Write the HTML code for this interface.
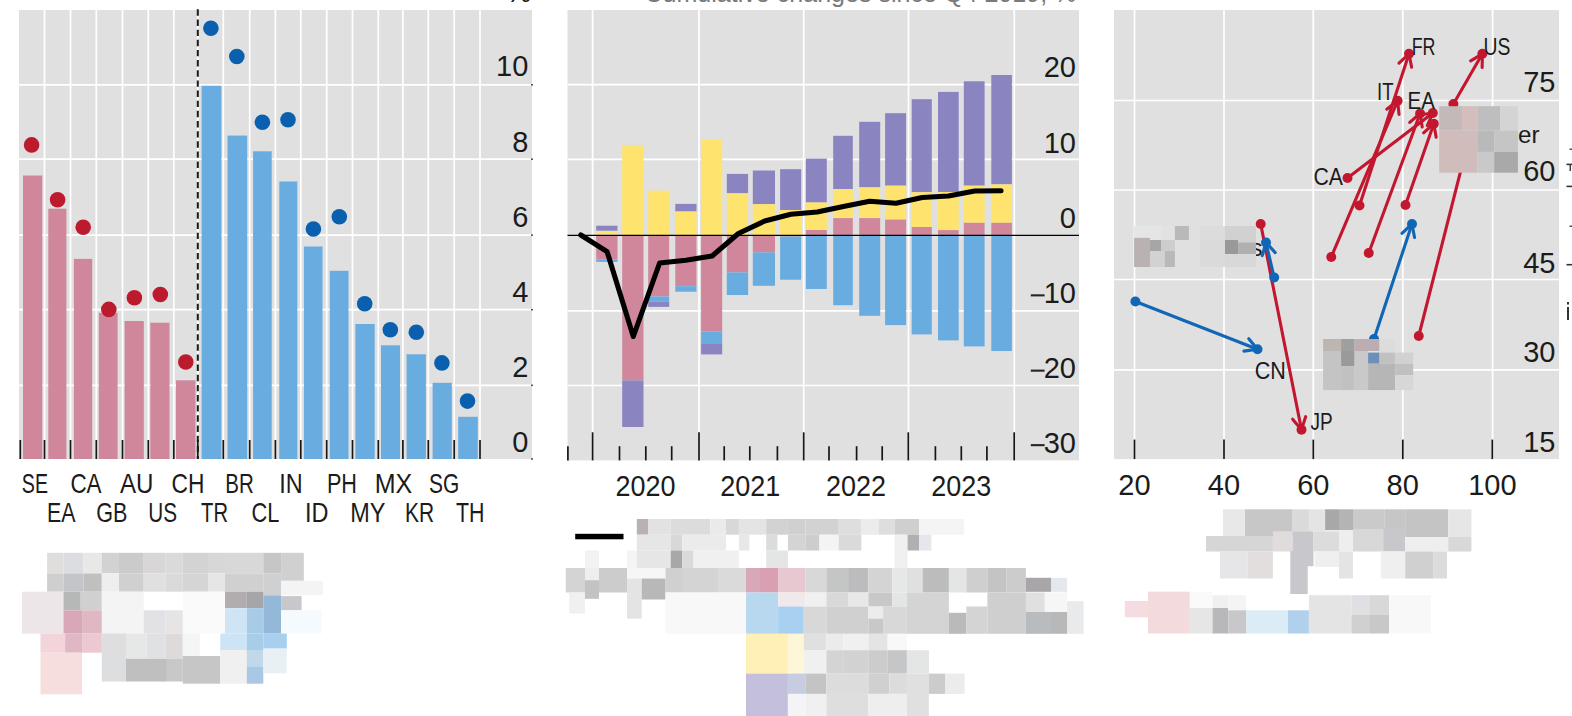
<!DOCTYPE html>
<html><head><meta charset="utf-8"><style>
html,body{margin:0;padding:0;background:#fff;width:1572px;height:716px;overflow:hidden}
svg{display:block}
text{font-family:"Liberation Sans",sans-serif}
</style></head><body>
<svg width="1572" height="716" viewBox="0 0 1572 716">
<rect width="1572" height="716" fill="#fff"/>
<rect x="19.00" y="10.00" width="513.00" height="449.00" fill="#e0e0e0"/>
<line x1="44.50" y1="10.00" x2="44.50" y2="459.00" stroke="#ffffff" stroke-width="1.7" />
<line x1="70.50" y1="10.00" x2="70.50" y2="459.00" stroke="#ffffff" stroke-width="1.7" />
<line x1="96.30" y1="10.00" x2="96.30" y2="459.00" stroke="#ffffff" stroke-width="1.7" />
<line x1="122.50" y1="10.00" x2="122.50" y2="459.00" stroke="#ffffff" stroke-width="1.7" />
<line x1="148.30" y1="10.00" x2="148.30" y2="459.00" stroke="#ffffff" stroke-width="1.7" />
<line x1="173.80" y1="10.00" x2="173.80" y2="459.00" stroke="#ffffff" stroke-width="1.7" />
<line x1="197.80" y1="10.00" x2="197.80" y2="459.00" stroke="#ffffff" stroke-width="1.7" />
<line x1="223.30" y1="10.00" x2="223.30" y2="459.00" stroke="#ffffff" stroke-width="1.7" />
<line x1="249.70" y1="10.00" x2="249.70" y2="459.00" stroke="#ffffff" stroke-width="1.7" />
<line x1="275.40" y1="10.00" x2="275.40" y2="459.00" stroke="#ffffff" stroke-width="1.7" />
<line x1="300.80" y1="10.00" x2="300.80" y2="459.00" stroke="#ffffff" stroke-width="1.7" />
<line x1="326.70" y1="10.00" x2="326.70" y2="459.00" stroke="#ffffff" stroke-width="1.7" />
<line x1="352.50" y1="10.00" x2="352.50" y2="459.00" stroke="#ffffff" stroke-width="1.7" />
<line x1="378.30" y1="10.00" x2="378.30" y2="459.00" stroke="#ffffff" stroke-width="1.7" />
<line x1="402.90" y1="10.00" x2="402.90" y2="459.00" stroke="#ffffff" stroke-width="1.7" />
<line x1="428.30" y1="10.00" x2="428.30" y2="459.00" stroke="#ffffff" stroke-width="1.7" />
<line x1="454.20" y1="10.00" x2="454.20" y2="459.00" stroke="#ffffff" stroke-width="1.7" />
<line x1="480.00" y1="10.00" x2="480.00" y2="459.00" stroke="#ffffff" stroke-width="1.7" />
<line x1="19.00" y1="84.80" x2="532.00" y2="84.80" stroke="#ffffff" stroke-width="1.7" />
<line x1="19.00" y1="159.20" x2="532.00" y2="159.20" stroke="#ffffff" stroke-width="1.7" />
<line x1="19.00" y1="235.10" x2="532.00" y2="235.10" stroke="#ffffff" stroke-width="1.7" />
<line x1="19.00" y1="309.70" x2="532.00" y2="309.70" stroke="#ffffff" stroke-width="1.7" />
<line x1="19.00" y1="385.30" x2="532.00" y2="385.30" stroke="#ffffff" stroke-width="1.7" />
<rect x="23.00" y="175.50" width="19.30" height="283.50" fill="#d0879b"/>
<rect x="48.30" y="208.70" width="18.10" height="250.30" fill="#d0879b"/>
<rect x="73.90" y="258.90" width="18.30" height="200.10" fill="#d0879b"/>
<rect x="98.80" y="312.80" width="18.80" height="146.20" fill="#d0879b"/>
<rect x="124.60" y="321.00" width="19.20" height="138.00" fill="#d0879b"/>
<rect x="150.30" y="322.70" width="19.20" height="136.30" fill="#d0879b"/>
<rect x="176.00" y="380.30" width="19.50" height="78.70" fill="#d0879b"/>
<rect x="201.60" y="85.80" width="19.80" height="373.20" fill="#69acdf"/>
<rect x="227.50" y="135.60" width="19.70" height="323.40" fill="#69acdf"/>
<rect x="253.10" y="151.30" width="18.60" height="307.70" fill="#69acdf"/>
<rect x="279.30" y="181.50" width="18.00" height="277.50" fill="#69acdf"/>
<rect x="303.90" y="246.50" width="18.60" height="212.50" fill="#69acdf"/>
<rect x="329.80" y="270.80" width="18.70" height="188.20" fill="#69acdf"/>
<rect x="355.40" y="324.00" width="19.30" height="135.00" fill="#69acdf"/>
<rect x="381.00" y="345.30" width="19.00" height="113.70" fill="#69acdf"/>
<rect x="406.60" y="354.30" width="19.30" height="104.70" fill="#69acdf"/>
<rect x="432.60" y="382.80" width="19.20" height="76.20" fill="#69acdf"/>
<rect x="458.20" y="416.80" width="19.60" height="42.20" fill="#69acdf"/>
<line x1="197.80" y1="9.35" x2="197.80" y2="459.00" stroke="#1a1a1a" stroke-width="2" stroke-dasharray="6.4 3.75"/>
<circle cx="31.6" cy="144.9" r="7.8" fill="#bc1a2d"/>
<circle cx="57.6" cy="199.7" r="7.8" fill="#bc1a2d"/>
<circle cx="83.2" cy="227.3" r="7.8" fill="#bc1a2d"/>
<circle cx="108.8" cy="309.4" r="7.8" fill="#bc1a2d"/>
<circle cx="134.4" cy="297.8" r="7.8" fill="#bc1a2d"/>
<circle cx="160.3" cy="294.5" r="7.8" fill="#bc1a2d"/>
<circle cx="185.8" cy="362" r="7.8" fill="#bc1a2d"/>
<circle cx="210.9" cy="28.3" r="7.8" fill="#0a5fae"/>
<circle cx="236.8" cy="56.5" r="7.8" fill="#0a5fae"/>
<circle cx="262.4" cy="122.3" r="7.8" fill="#0a5fae"/>
<circle cx="288" cy="119.7" r="7.8" fill="#0a5fae"/>
<circle cx="313.4" cy="229" r="7.8" fill="#0a5fae"/>
<circle cx="339.3" cy="216.7" r="7.8" fill="#0a5fae"/>
<circle cx="364.7" cy="303.7" r="7.8" fill="#0a5fae"/>
<circle cx="390.3" cy="329.7" r="7.8" fill="#0a5fae"/>
<circle cx="416.3" cy="332.3" r="7.8" fill="#0a5fae"/>
<circle cx="441.9" cy="362.9" r="7.8" fill="#0a5fae"/>
<circle cx="467.5" cy="401.1" r="7.8" fill="#0a5fae"/>
<line x1="20.30" y1="440.00" x2="20.30" y2="459.00" stroke="#161616" stroke-width="1.7" />
<line x1="44.50" y1="440.00" x2="44.50" y2="459.00" stroke="#161616" stroke-width="1.7" />
<line x1="70.50" y1="440.00" x2="70.50" y2="459.00" stroke="#161616" stroke-width="1.7" />
<line x1="96.30" y1="440.00" x2="96.30" y2="459.00" stroke="#161616" stroke-width="1.7" />
<line x1="122.50" y1="440.00" x2="122.50" y2="459.00" stroke="#161616" stroke-width="1.7" />
<line x1="148.30" y1="440.00" x2="148.30" y2="459.00" stroke="#161616" stroke-width="1.7" />
<line x1="173.80" y1="440.00" x2="173.80" y2="459.00" stroke="#161616" stroke-width="1.7" />
<line x1="197.80" y1="440.00" x2="197.80" y2="459.00" stroke="#161616" stroke-width="1.7" />
<line x1="223.30" y1="440.00" x2="223.30" y2="459.00" stroke="#161616" stroke-width="1.7" />
<line x1="249.70" y1="440.00" x2="249.70" y2="459.00" stroke="#161616" stroke-width="1.7" />
<line x1="275.40" y1="440.00" x2="275.40" y2="459.00" stroke="#161616" stroke-width="1.7" />
<line x1="300.80" y1="440.00" x2="300.80" y2="459.00" stroke="#161616" stroke-width="1.7" />
<line x1="326.70" y1="440.00" x2="326.70" y2="459.00" stroke="#161616" stroke-width="1.7" />
<line x1="352.50" y1="440.00" x2="352.50" y2="459.00" stroke="#161616" stroke-width="1.7" />
<line x1="378.30" y1="440.00" x2="378.30" y2="459.00" stroke="#161616" stroke-width="1.7" />
<line x1="402.90" y1="440.00" x2="402.90" y2="459.00" stroke="#161616" stroke-width="1.7" />
<line x1="428.30" y1="440.00" x2="428.30" y2="459.00" stroke="#161616" stroke-width="1.7" />
<line x1="454.20" y1="440.00" x2="454.20" y2="459.00" stroke="#161616" stroke-width="1.7" />
<line x1="480.00" y1="440.00" x2="480.00" y2="459.00" stroke="#161616" stroke-width="1.7" />
<rect x="531.00" y="84.00" width="2.00" height="1.60" fill="#555"/>
<rect x="531.00" y="158.40" width="2.00" height="1.60" fill="#555"/>
<rect x="531.00" y="234.30" width="2.00" height="1.60" fill="#555"/>
<rect x="531.00" y="308.90" width="2.00" height="1.60" fill="#555"/>
<rect x="531.00" y="384.50" width="2.00" height="1.60" fill="#555"/>
<rect x="531.00" y="458.20" width="2.00" height="1.60" fill="#555"/>
<text x="528.30" y="76.00" font-size="29" text-anchor="end" fill="#1b1b1b" >10</text>
<text x="528.30" y="152.30" font-size="29" text-anchor="end" fill="#1b1b1b" >8</text>
<text x="528.30" y="226.60" font-size="29" text-anchor="end" fill="#1b1b1b" >6</text>
<text x="528.30" y="301.60" font-size="29" text-anchor="end" fill="#1b1b1b" >4</text>
<text x="528.30" y="377.20" font-size="29" text-anchor="end" fill="#1b1b1b" >2</text>
<text x="528.30" y="452.00" font-size="29" text-anchor="end" fill="#1b1b1b" >0</text>
<text x="531.50" y="2.00" font-size="29" text-anchor="end" fill="#1b1b1b" >%</text>
<text x="21.80" y="492.80" font-size="26.9" text-anchor="start" fill="#1b1b1b" textLength="26.2" lengthAdjust="spacingAndGlyphs" >SE</text>
<text x="70.40" y="492.80" font-size="26.9" text-anchor="start" fill="#1b1b1b" textLength="31.2" lengthAdjust="spacingAndGlyphs" >CA</text>
<text x="120.00" y="492.80" font-size="26.9" text-anchor="start" fill="#1b1b1b" textLength="33.5" lengthAdjust="spacingAndGlyphs" >AU</text>
<text x="171.60" y="492.80" font-size="26.9" text-anchor="start" fill="#1b1b1b" textLength="32.9" lengthAdjust="spacingAndGlyphs" >CH</text>
<text x="225.30" y="492.80" font-size="26.9" text-anchor="start" fill="#1b1b1b" textLength="28.5" lengthAdjust="spacingAndGlyphs" >BR</text>
<text x="279.30" y="492.80" font-size="26.9" text-anchor="start" fill="#1b1b1b" textLength="23.4" lengthAdjust="spacingAndGlyphs" >IN</text>
<text x="326.90" y="492.80" font-size="26.9" text-anchor="start" fill="#1b1b1b" textLength="30.1" lengthAdjust="spacingAndGlyphs" >PH</text>
<text x="374.80" y="492.80" font-size="26.9" text-anchor="start" fill="#1b1b1b" textLength="37.5" lengthAdjust="spacingAndGlyphs" >MX</text>
<text x="429.10" y="492.80" font-size="26.9" text-anchor="start" fill="#1b1b1b" textLength="30.2" lengthAdjust="spacingAndGlyphs" >SG</text>
<text x="46.90" y="521.90" font-size="26.9" text-anchor="start" fill="#1b1b1b" textLength="28.5" lengthAdjust="spacingAndGlyphs" >EA</text>
<text x="96.20" y="521.90" font-size="26.9" text-anchor="start" fill="#1b1b1b" textLength="31.2" lengthAdjust="spacingAndGlyphs" >GB</text>
<text x="148.20" y="521.90" font-size="26.9" text-anchor="start" fill="#1b1b1b" textLength="28.8" lengthAdjust="spacingAndGlyphs" >US</text>
<text x="201.10" y="521.90" font-size="26.9" text-anchor="start" fill="#1b1b1b" textLength="26.9" lengthAdjust="spacingAndGlyphs" >TR</text>
<text x="251.40" y="521.90" font-size="26.9" text-anchor="start" fill="#1b1b1b" textLength="27.9" lengthAdjust="spacingAndGlyphs" >CL</text>
<text x="305.00" y="521.90" font-size="26.9" text-anchor="start" fill="#1b1b1b" textLength="23.5" lengthAdjust="spacingAndGlyphs" >ID</text>
<text x="350.30" y="521.90" font-size="26.9" text-anchor="start" fill="#1b1b1b" textLength="35.2" lengthAdjust="spacingAndGlyphs" >MY</text>
<text x="405.00" y="521.90" font-size="26.9" text-anchor="start" fill="#1b1b1b" textLength="29.1" lengthAdjust="spacingAndGlyphs" >KR</text>
<text x="455.90" y="521.90" font-size="26.9" text-anchor="start" fill="#1b1b1b" textLength="28.5" lengthAdjust="spacingAndGlyphs" >TH</text>
<rect x="567.50" y="10.00" width="511.50" height="450.40" fill="#e0e0e0"/>
<line x1="592.60" y1="10.00" x2="592.60" y2="460.40" stroke="#ffffff" stroke-width="1.7" />
<line x1="699.00" y1="10.00" x2="699.00" y2="460.40" stroke="#ffffff" stroke-width="1.7" />
<line x1="803.70" y1="10.00" x2="803.70" y2="460.40" stroke="#ffffff" stroke-width="1.7" />
<line x1="908.50" y1="10.00" x2="908.50" y2="460.40" stroke="#ffffff" stroke-width="1.7" />
<line x1="1014.30" y1="10.00" x2="1014.30" y2="460.40" stroke="#ffffff" stroke-width="1.7" />
<line x1="567.50" y1="84.60" x2="1079.00" y2="84.60" stroke="#ffffff" stroke-width="1.7" />
<line x1="567.50" y1="159.30" x2="1079.00" y2="159.30" stroke="#ffffff" stroke-width="1.7" />
<line x1="567.50" y1="310.80" x2="1079.00" y2="310.80" stroke="#ffffff" stroke-width="1.7" />
<line x1="567.50" y1="385.50" x2="1079.00" y2="385.50" stroke="#ffffff" stroke-width="1.7" />
<rect x="596.20" y="225.70" width="21.30" height="5.00" fill="#8a84c0"/>
<rect x="596.20" y="231.20" width="21.30" height="3.20" fill="#fee36e"/>
<rect x="596.20" y="235.50" width="21.30" height="24.00" fill="#d0879b"/>
<rect x="596.20" y="259.50" width="21.30" height="2.40" fill="#69acdf"/>
<rect x="622.20" y="145.00" width="21.30" height="90.00" fill="#fee36e"/>
<rect x="622.20" y="235.00" width="21.30" height="145.40" fill="#d0879b"/>
<rect x="622.20" y="380.40" width="21.30" height="46.60" fill="#8a84c0"/>
<rect x="648.20" y="190.60" width="21.00" height="44.40" fill="#fee36e"/>
<rect x="648.20" y="235.00" width="21.00" height="61.50" fill="#d0879b"/>
<rect x="648.20" y="296.50" width="21.00" height="5.00" fill="#69acdf"/>
<rect x="648.20" y="301.50" width="21.00" height="5.40" fill="#8a84c0"/>
<rect x="675.30" y="203.90" width="21.20" height="7.60" fill="#8a84c0"/>
<rect x="675.30" y="211.50" width="21.20" height="23.50" fill="#fee36e"/>
<rect x="675.30" y="235.00" width="21.20" height="51.20" fill="#d0879b"/>
<rect x="675.30" y="286.20" width="21.20" height="5.50" fill="#69acdf"/>
<rect x="701.10" y="139.00" width="21.10" height="96.00" fill="#fee36e"/>
<rect x="701.10" y="235.00" width="21.10" height="96.40" fill="#d0879b"/>
<rect x="701.10" y="331.40" width="21.10" height="12.60" fill="#69acdf"/>
<rect x="701.10" y="344.00" width="21.10" height="10.40" fill="#8a84c0"/>
<rect x="726.80" y="173.90" width="21.30" height="19.40" fill="#8a84c0"/>
<rect x="726.80" y="193.30" width="21.30" height="41.70" fill="#fee36e"/>
<rect x="726.80" y="235.00" width="21.30" height="37.40" fill="#d0879b"/>
<rect x="726.80" y="272.40" width="21.30" height="22.60" fill="#69acdf"/>
<rect x="752.80" y="170.50" width="22.20" height="33.70" fill="#8a84c0"/>
<rect x="752.80" y="204.20" width="22.20" height="30.80" fill="#fee36e"/>
<rect x="752.80" y="235.00" width="22.20" height="17.40" fill="#d0879b"/>
<rect x="752.80" y="252.40" width="22.20" height="33.40" fill="#69acdf"/>
<rect x="780.10" y="169.20" width="21.10" height="40.80" fill="#8a84c0"/>
<rect x="780.10" y="210.00" width="21.10" height="25.00" fill="#fee36e"/>
<rect x="780.10" y="235.00" width="21.10" height="1.50" fill="#d0879b"/>
<rect x="780.10" y="236.50" width="21.10" height="43.20" fill="#69acdf"/>
<rect x="805.90" y="158.60" width="20.90" height="43.90" fill="#8a84c0"/>
<rect x="805.90" y="202.50" width="20.90" height="27.50" fill="#fee36e"/>
<rect x="805.90" y="230.00" width="20.90" height="5.00" fill="#d0879b"/>
<rect x="805.90" y="235.00" width="20.90" height="54.00" fill="#69acdf"/>
<rect x="833.20" y="135.80" width="19.60" height="53.30" fill="#8a84c0"/>
<rect x="833.20" y="189.10" width="19.60" height="29.00" fill="#fee36e"/>
<rect x="833.20" y="218.10" width="19.60" height="16.90" fill="#d0879b"/>
<rect x="833.20" y="235.00" width="19.60" height="70.20" fill="#69acdf"/>
<rect x="859.20" y="121.80" width="21.00" height="65.60" fill="#8a84c0"/>
<rect x="859.20" y="187.40" width="21.00" height="30.70" fill="#fee36e"/>
<rect x="859.20" y="218.10" width="21.00" height="16.90" fill="#d0879b"/>
<rect x="859.20" y="235.00" width="21.00" height="80.80" fill="#69acdf"/>
<rect x="885.10" y="113.20" width="21.00" height="72.50" fill="#8a84c0"/>
<rect x="885.10" y="185.70" width="21.00" height="33.90" fill="#fee36e"/>
<rect x="885.10" y="219.60" width="21.00" height="15.40" fill="#d0879b"/>
<rect x="885.10" y="235.00" width="21.00" height="90.10" fill="#69acdf"/>
<rect x="911.70" y="99.20" width="20.10" height="93.00" fill="#8a84c0"/>
<rect x="911.70" y="192.20" width="20.10" height="34.80" fill="#fee36e"/>
<rect x="911.70" y="227.00" width="20.10" height="8.00" fill="#d0879b"/>
<rect x="911.70" y="235.00" width="20.10" height="99.40" fill="#69acdf"/>
<rect x="938.00" y="91.90" width="20.70" height="100.10" fill="#8a84c0"/>
<rect x="938.00" y="192.00" width="20.70" height="38.10" fill="#fee36e"/>
<rect x="938.00" y="230.10" width="20.70" height="4.90" fill="#d0879b"/>
<rect x="938.00" y="235.00" width="20.70" height="105.40" fill="#69acdf"/>
<rect x="963.80" y="81.30" width="20.80" height="104.40" fill="#8a84c0"/>
<rect x="963.80" y="185.70" width="20.80" height="37.10" fill="#fee36e"/>
<rect x="963.80" y="222.80" width="20.80" height="12.20" fill="#d0879b"/>
<rect x="963.80" y="235.00" width="20.80" height="111.40" fill="#69acdf"/>
<rect x="991.30" y="75.00" width="20.60" height="109.40" fill="#8a84c0"/>
<rect x="991.30" y="184.40" width="20.60" height="38.40" fill="#fee36e"/>
<rect x="991.30" y="222.80" width="20.60" height="12.20" fill="#d0879b"/>
<rect x="991.30" y="235.00" width="20.60" height="116.00" fill="#69acdf"/>
<line x1="567.50" y1="235.30" x2="1079.00" y2="235.30" stroke="#000" stroke-width="1.2" />
<polyline points="580.8,235 607.1,251.7 633.3,336.5 659.6,263 685.9,260.2 712.1,256 738.4,233.5 764.7,221 790.9,214.2 817.2,212 843.4,206.5 869.7,201.3 896,203.3 922.2,197.5 948.5,196 974.7,191 1001,190.8" fill="none" stroke="#000" stroke-width="5.1" stroke-linejoin="round" stroke-linecap="round"/>
<line x1="592.60" y1="432.30" x2="592.60" y2="460.40" stroke="#161616" stroke-width="1.7" />
<line x1="699.00" y1="432.30" x2="699.00" y2="460.40" stroke="#161616" stroke-width="1.7" />
<line x1="803.70" y1="432.30" x2="803.70" y2="460.40" stroke="#161616" stroke-width="1.7" />
<line x1="908.30" y1="432.30" x2="908.30" y2="460.40" stroke="#161616" stroke-width="1.7" />
<line x1="1014.20" y1="432.30" x2="1014.20" y2="460.40" stroke="#161616" stroke-width="1.7" />
<line x1="567.90" y1="446.20" x2="567.90" y2="460.40" stroke="#161616" stroke-width="1.7" />
<line x1="619.50" y1="446.20" x2="619.50" y2="460.40" stroke="#161616" stroke-width="1.7" />
<line x1="645.80" y1="446.20" x2="645.80" y2="460.40" stroke="#161616" stroke-width="1.7" />
<line x1="671.70" y1="446.20" x2="671.70" y2="460.40" stroke="#161616" stroke-width="1.7" />
<line x1="724.20" y1="446.20" x2="724.20" y2="460.40" stroke="#161616" stroke-width="1.7" />
<line x1="749.80" y1="446.20" x2="749.80" y2="460.40" stroke="#161616" stroke-width="1.7" />
<line x1="777.40" y1="446.20" x2="777.40" y2="460.40" stroke="#161616" stroke-width="1.7" />
<line x1="829.00" y1="446.20" x2="829.00" y2="460.40" stroke="#161616" stroke-width="1.7" />
<line x1="856.60" y1="446.20" x2="856.60" y2="460.40" stroke="#161616" stroke-width="1.7" />
<line x1="882.20" y1="446.20" x2="882.20" y2="460.40" stroke="#161616" stroke-width="1.7" />
<line x1="935.40" y1="446.20" x2="935.40" y2="460.40" stroke="#161616" stroke-width="1.7" />
<line x1="961.30" y1="446.20" x2="961.30" y2="460.40" stroke="#161616" stroke-width="1.7" />
<line x1="986.90" y1="446.20" x2="986.90" y2="460.40" stroke="#161616" stroke-width="1.7" />
<text x="1076.00" y="76.60" font-size="29" text-anchor="end" fill="#1b1b1b" >20</text>
<text x="1076.00" y="152.50" font-size="29" text-anchor="end" fill="#1b1b1b" >10</text>
<text x="1076.00" y="227.50" font-size="29" text-anchor="end" fill="#1b1b1b" >0</text>
<text x="1076.00" y="303.00" font-size="29" text-anchor="end" fill="#1b1b1b" >10</text>
<text x="1076.00" y="378.30" font-size="29" text-anchor="end" fill="#1b1b1b" >20</text>
<text x="1076.00" y="452.80" font-size="29" text-anchor="end" fill="#1b1b1b" >30</text>
<rect x="1030.80" y="294.30" width="13.80" height="2.10" fill="#262626"/>
<rect x="1030.80" y="369.60" width="13.80" height="2.10" fill="#262626"/>
<rect x="1030.80" y="444.10" width="13.80" height="2.10" fill="#262626"/>
<text x="645.60" y="496.00" font-size="29" text-anchor="middle" fill="#1b1b1b" textLength="60" lengthAdjust="spacingAndGlyphs" >2020</text>
<text x="750.20" y="496.00" font-size="29" text-anchor="middle" fill="#1b1b1b" textLength="60" lengthAdjust="spacingAndGlyphs" >2021</text>
<text x="856.00" y="496.00" font-size="29" text-anchor="middle" fill="#1b1b1b" textLength="60" lengthAdjust="spacingAndGlyphs" >2022</text>
<text x="961.20" y="496.00" font-size="29" text-anchor="middle" fill="#1b1b1b" textLength="60" lengthAdjust="spacingAndGlyphs" >2023</text>
<text x="644.40" y="2.30" font-size="26" text-anchor="start" fill="#7a7a7a" textLength="432" lengthAdjust="spacingAndGlyphs" >Cumulative changes since Q4 2019, %</text>
<rect x="1114.00" y="10.00" width="445.00" height="449.10" fill="#e0e0e0"/>
<line x1="1134.50" y1="10.00" x2="1134.50" y2="459.10" stroke="#ffffff" stroke-width="1.7" />
<line x1="1224.00" y1="10.00" x2="1224.00" y2="459.10" stroke="#ffffff" stroke-width="1.7" />
<line x1="1313.30" y1="10.00" x2="1313.30" y2="459.10" stroke="#ffffff" stroke-width="1.7" />
<line x1="1402.80" y1="10.00" x2="1402.80" y2="459.10" stroke="#ffffff" stroke-width="1.7" />
<line x1="1492.60" y1="10.00" x2="1492.60" y2="459.10" stroke="#ffffff" stroke-width="1.7" />
<line x1="1114.00" y1="100.50" x2="1559.00" y2="100.50" stroke="#ffffff" stroke-width="1.7" />
<line x1="1114.00" y1="190.00" x2="1559.00" y2="190.00" stroke="#ffffff" stroke-width="1.7" />
<line x1="1114.00" y1="279.50" x2="1559.00" y2="279.50" stroke="#ffffff" stroke-width="1.7" />
<line x1="1114.00" y1="369.80" x2="1559.00" y2="369.80" stroke="#ffffff" stroke-width="1.7" />
<line x1="1134.50" y1="439.60" x2="1134.50" y2="459.10" stroke="#161616" stroke-width="1.7" />
<line x1="1224.00" y1="439.60" x2="1224.00" y2="459.10" stroke="#161616" stroke-width="1.7" />
<line x1="1313.30" y1="439.60" x2="1313.30" y2="459.10" stroke="#161616" stroke-width="1.7" />
<line x1="1402.80" y1="439.60" x2="1402.80" y2="459.10" stroke="#161616" stroke-width="1.7" />
<line x1="1492.30" y1="439.60" x2="1492.30" y2="459.10" stroke="#161616" stroke-width="1.7" />
<text x="1555.50" y="92.30" font-size="29" text-anchor="end" fill="#1b1b1b" >75</text>
<text x="1555.50" y="181.00" font-size="29" text-anchor="end" fill="#1b1b1b" >60</text>
<text x="1555.50" y="272.80" font-size="29" text-anchor="end" fill="#1b1b1b" >45</text>
<text x="1555.50" y="362.40" font-size="29" text-anchor="end" fill="#1b1b1b" >30</text>
<text x="1555.50" y="451.60" font-size="29" text-anchor="end" fill="#1b1b1b" >15</text>
<text x="1134.50" y="494.60" font-size="29" text-anchor="middle" fill="#1b1b1b" >20</text>
<text x="1224.00" y="494.60" font-size="29" text-anchor="middle" fill="#1b1b1b" >40</text>
<text x="1313.30" y="494.60" font-size="29" text-anchor="middle" fill="#1b1b1b" >60</text>
<text x="1402.70" y="494.60" font-size="29" text-anchor="middle" fill="#1b1b1b" >80</text>
<text x="1492.40" y="494.60" font-size="29" text-anchor="middle" fill="#1b1b1b" >100</text>
<text x="1250.50" y="255.50" font-size="24" text-anchor="start" fill="#1b1b1b" >s</text>
<rect x="1134.10" y="226.00" width="26.90" height="14.00" fill="#e5e5e5"/>
<rect x="1161.00" y="226.00" width="13.90" height="14.00" fill="#e2e2e2"/>
<rect x="1174.90" y="226.00" width="14.00" height="14.00" fill="#b9b9bb"/>
<rect x="1134.10" y="237.90" width="15.90" height="29.10" fill="#bab2b2"/>
<rect x="1150.00" y="240.00" width="11.00" height="11.00" fill="#a6a6a8"/>
<rect x="1161.00" y="240.00" width="13.90" height="11.00" fill="#cdcdcd"/>
<rect x="1150.00" y="251.00" width="14.80" height="16.00" fill="#d2d2d2"/>
<rect x="1164.80" y="251.00" width="10.10" height="16.00" fill="#b9b9bb"/>
<rect x="1200.00" y="226.00" width="25.00" height="14.00" fill="#dcdcdc"/>
<rect x="1225.00" y="226.00" width="31.00" height="14.00" fill="#d1d1d1"/>
<rect x="1200.00" y="240.00" width="25.00" height="27.00" fill="#dadada"/>
<rect x="1225.00" y="240.00" width="13.10" height="14.00" fill="#99999b"/>
<rect x="1238.10" y="242.20" width="17.90" height="11.80" fill="#b0b0b0"/>
<rect x="1238.10" y="240.00" width="17.90" height="2.20" fill="#d0d0d0"/>
<rect x="1225.00" y="254.00" width="31.00" height="13.00" fill="#d8d8d8"/>
<line x1="1418.75" y1="336.00" x2="1466.00" y2="150.00" stroke="#c2172f" stroke-width="3.1" stroke-linecap="round"/>
<circle cx="1418.75" cy="336.00" r="5" fill="#c2172f"/>
<line x1="1331.25" y1="257.00" x2="1397.60" y2="100.80" stroke="#c2172f" stroke-width="3.1" stroke-linecap="round"/>
<circle cx="1331.25" cy="257.00" r="5" fill="#c2172f"/>
<circle cx="1397.60" cy="100.80" r="5" fill="#c2172f"/>
<line x1="1397.60" y1="100.80" x2="1399.03" y2="114.43" stroke="#c2172f" stroke-width="3.1" stroke-linecap="round"/>
<line x1="1397.60" y1="100.80" x2="1386.80" y2="109.23" stroke="#c2172f" stroke-width="3.1" stroke-linecap="round"/>
<line x1="1359.50" y1="205.50" x2="1409.00" y2="53.80" stroke="#c2172f" stroke-width="3.1" stroke-linecap="round"/>
<circle cx="1359.50" cy="205.50" r="5" fill="#c2172f"/>
<circle cx="1409.00" cy="53.80" r="5" fill="#c2172f"/>
<line x1="1409.00" y1="53.80" x2="1411.60" y2="67.25" stroke="#c2172f" stroke-width="3.1" stroke-linecap="round"/>
<line x1="1409.00" y1="53.80" x2="1398.97" y2="63.13" stroke="#c2172f" stroke-width="3.1" stroke-linecap="round"/>
<line x1="1347.50" y1="178.00" x2="1432.80" y2="113.00" stroke="#c2172f" stroke-width="3.1" stroke-linecap="round"/>
<circle cx="1347.50" cy="178.00" r="5" fill="#c2172f"/>
<circle cx="1432.80" cy="113.00" r="5" fill="#c2172f"/>
<line x1="1432.80" y1="113.00" x2="1427.30" y2="125.55" stroke="#c2172f" stroke-width="3.1" stroke-linecap="round"/>
<line x1="1432.80" y1="113.00" x2="1419.24" y2="114.98" stroke="#c2172f" stroke-width="3.1" stroke-linecap="round"/>
<line x1="1368.75" y1="253.00" x2="1420.10" y2="113.50" stroke="#c2172f" stroke-width="3.1" stroke-linecap="round"/>
<circle cx="1368.75" cy="253.00" r="5" fill="#c2172f"/>
<circle cx="1420.10" cy="113.50" r="5" fill="#c2172f"/>
<line x1="1420.10" y1="113.50" x2="1422.19" y2="127.04" stroke="#c2172f" stroke-width="3.1" stroke-linecap="round"/>
<line x1="1420.10" y1="113.50" x2="1409.73" y2="122.45" stroke="#c2172f" stroke-width="3.1" stroke-linecap="round"/>
<line x1="1405.50" y1="205.00" x2="1433.80" y2="123.70" stroke="#c2172f" stroke-width="3.1" stroke-linecap="round"/>
<circle cx="1405.50" cy="205.00" r="5" fill="#c2172f"/>
<circle cx="1433.80" cy="123.70" r="5" fill="#c2172f"/>
<line x1="1433.80" y1="123.70" x2="1436.13" y2="137.20" stroke="#c2172f" stroke-width="3.1" stroke-linecap="round"/>
<line x1="1433.80" y1="123.70" x2="1423.59" y2="132.83" stroke="#c2172f" stroke-width="3.1" stroke-linecap="round"/>
<line x1="1453.40" y1="104.00" x2="1482.40" y2="53.80" stroke="#c2172f" stroke-width="3.1" stroke-linecap="round"/>
<circle cx="1453.40" cy="104.00" r="5" fill="#c2172f"/>
<circle cx="1482.40" cy="53.80" r="5" fill="#c2172f"/>
<line x1="1482.40" y1="53.80" x2="1482.16" y2="67.50" stroke="#c2172f" stroke-width="3.1" stroke-linecap="round"/>
<line x1="1482.40" y1="53.80" x2="1470.66" y2="60.85" stroke="#c2172f" stroke-width="3.1" stroke-linecap="round"/>
<line x1="1260.70" y1="224.00" x2="1301.50" y2="429.70" stroke="#c2172f" stroke-width="3.1" stroke-linecap="round"/>
<circle cx="1260.70" cy="224.00" r="5" fill="#c2172f"/>
<circle cx="1301.50" cy="429.70" r="5" fill="#c2172f"/>
<line x1="1301.50" y1="429.70" x2="1292.65" y2="419.24" stroke="#c2172f" stroke-width="3.1" stroke-linecap="round"/>
<line x1="1301.50" y1="429.70" x2="1305.68" y2="416.65" stroke="#c2172f" stroke-width="3.1" stroke-linecap="round"/>
<line x1="1135.40" y1="301.50" x2="1257.50" y2="349.30" stroke="#1166b6" stroke-width="3.1" stroke-linecap="round"/>
<circle cx="1135.40" cy="301.50" r="5" fill="#1166b6"/>
<circle cx="1257.50" cy="349.30" r="5" fill="#1166b6"/>
<line x1="1257.50" y1="349.30" x2="1243.92" y2="351.12" stroke="#1166b6" stroke-width="3.1" stroke-linecap="round"/>
<line x1="1257.50" y1="349.30" x2="1248.76" y2="338.75" stroke="#1166b6" stroke-width="3.1" stroke-linecap="round"/>
<line x1="1274.20" y1="277.50" x2="1266.00" y2="242.50" stroke="#1166b6" stroke-width="3.1" stroke-linecap="round"/>
<circle cx="1274.20" cy="277.50" r="5" fill="#1166b6"/>
<circle cx="1266.00" cy="242.50" r="5" fill="#1166b6"/>
<line x1="1266.00" y1="242.50" x2="1275.20" y2="252.65" stroke="#1166b6" stroke-width="3.1" stroke-linecap="round"/>
<line x1="1266.00" y1="242.50" x2="1262.27" y2="255.68" stroke="#1166b6" stroke-width="3.1" stroke-linecap="round"/>
<line x1="1374.00" y1="339.00" x2="1412.00" y2="224.00" stroke="#1166b6" stroke-width="3.1" stroke-linecap="round"/>
<circle cx="1374.00" cy="339.00" r="5" fill="#1166b6"/>
<circle cx="1412.00" cy="224.00" r="5" fill="#1166b6"/>
<line x1="1412.00" y1="224.00" x2="1414.55" y2="237.46" stroke="#1166b6" stroke-width="3.1" stroke-linecap="round"/>
<line x1="1412.00" y1="224.00" x2="1401.93" y2="233.29" stroke="#1166b6" stroke-width="3.1" stroke-linecap="round"/>
<rect x="1323.10" y="339.00" width="18.00" height="12.00" fill="#bdb5b0"/>
<rect x="1341.10" y="339.00" width="13.50" height="12.00" fill="#9f9f9f"/>
<rect x="1354.60" y="339.00" width="24.90" height="12.00" fill="#bcaeb0"/>
<rect x="1379.50" y="339.00" width="15.70" height="13.60" fill="#dcdcdc"/>
<rect x="1323.10" y="351.00" width="18.00" height="39.10" fill="#c4c4c4"/>
<rect x="1341.10" y="351.00" width="13.50" height="15.10" fill="#9a9a9a"/>
<rect x="1341.10" y="366.10" width="13.50" height="24.00" fill="#c1c1c1"/>
<rect x="1354.60" y="351.00" width="13.50" height="39.10" fill="#c9c9c9"/>
<rect x="1368.10" y="352.60" width="11.40" height="11.10" fill="#6b90b9"/>
<rect x="1379.50" y="352.60" width="15.70" height="11.10" fill="#c1c1c1"/>
<rect x="1368.10" y="363.70" width="27.10" height="26.40" fill="#b6b6b6"/>
<rect x="1395.20" y="352.60" width="18.00" height="11.10" fill="#d1d1d1"/>
<rect x="1395.20" y="363.70" width="18.00" height="11.40" fill="#c0c0c0"/>
<rect x="1395.20" y="375.10" width="18.00" height="15.00" fill="#d7d7d7"/>
<rect x="1439.20" y="106.20" width="22.90" height="24.40" fill="#c4b9b9"/>
<rect x="1462.10" y="106.20" width="15.30" height="24.40" fill="#d3bdbd"/>
<rect x="1477.40" y="106.20" width="22.90" height="24.40" fill="#bebebe"/>
<rect x="1500.30" y="106.20" width="17.60" height="24.40" fill="#d4d4d4"/>
<rect x="1439.20" y="130.60" width="38.20" height="42.10" fill="#d1bcbc"/>
<rect x="1477.40" y="130.60" width="16.80" height="21.30" fill="#b9b9b9"/>
<rect x="1494.20" y="130.60" width="23.70" height="21.30" fill="#c5c5c5"/>
<rect x="1477.40" y="151.90" width="16.80" height="20.80" fill="#c9c9c9"/>
<rect x="1494.20" y="151.90" width="23.70" height="20.80" fill="#a9a9a9"/>
<text x="1411.70" y="55.20" font-size="24.8" text-anchor="start" fill="#1b1b1b" textLength="23.8" lengthAdjust="spacingAndGlyphs" >FR</text>
<text x="1483.60" y="55.20" font-size="24.8" text-anchor="start" fill="#1b1b1b" textLength="26.9" lengthAdjust="spacingAndGlyphs" >US</text>
<text x="1377.00" y="100.00" font-size="24.8" text-anchor="start" fill="#1b1b1b" textLength="16.5" lengthAdjust="spacingAndGlyphs" >IT</text>
<text x="1407.60" y="108.60" font-size="24.8" text-anchor="start" fill="#1b1b1b" textLength="27.3" lengthAdjust="spacingAndGlyphs" >EA</text>
<text x="1313.50" y="184.60" font-size="24.8" text-anchor="start" fill="#1b1b1b" textLength="29.5" lengthAdjust="spacingAndGlyphs" >CA</text>
<text x="1254.70" y="378.70" font-size="24.8" text-anchor="start" fill="#1b1b1b" textLength="31.1" lengthAdjust="spacingAndGlyphs" >CN</text>
<text x="1310.50" y="430.20" font-size="24.8" text-anchor="start" fill="#1b1b1b" textLength="22.2" lengthAdjust="spacingAndGlyphs" >JP</text>
<text x="1518.00" y="143.00" font-size="24.8" text-anchor="start" fill="#1b1b1b" textLength="21.5" lengthAdjust="spacingAndGlyphs" >er</text>
<rect x="1566.50" y="163.60" width="5.50" height="1.60" fill="#333"/>
<rect x="1566.50" y="185.60" width="5.50" height="1.60" fill="#333"/>
<rect x="1566.50" y="263.90" width="5.50" height="1.60" fill="#333"/>
<rect x="1569.50" y="164.40" width="1.50" height="6.60" fill="#444"/>
<rect x="1569.50" y="148.50" width="2.50" height="1.50" fill="#555"/>
<rect x="1569.50" y="225.50" width="2.50" height="1.50" fill="#555"/>
<rect x="1567.00" y="307.00" width="2.00" height="13.00" fill="#333"/>
<rect x="1567.00" y="302.00" width="2.00" height="2.50" fill="#333"/>
<rect x="575.20" y="533.80" width="48.30" height="5.50" fill="#000"/>
<rect x="47.10" y="552.80" width="16.40" height="20.60" fill="#e0dedc"/>
<rect x="63.50" y="552.80" width="20.00" height="20.60" fill="#dcdde0"/>
<rect x="83.50" y="552.80" width="18.30" height="20.60" fill="#e8e8e8"/>
<rect x="101.80" y="552.80" width="17.20" height="20.60" fill="#d2d2d2"/>
<rect x="119.00" y="552.80" width="24.70" height="20.60" fill="#cbcbcb"/>
<rect x="143.70" y="552.80" width="21.90" height="20.60" fill="#d8d6d6"/>
<rect x="165.60" y="552.80" width="17.20" height="20.60" fill="#dadada"/>
<rect x="182.80" y="552.80" width="25.20" height="20.60" fill="#d3d3d3"/>
<rect x="208.00" y="552.80" width="17.00" height="20.60" fill="#d7d7d7"/>
<rect x="225.00" y="552.80" width="38.30" height="20.60" fill="#d8d8d8"/>
<rect x="263.30" y="552.80" width="17.80" height="20.60" fill="#c5c6c5"/>
<rect x="281.10" y="552.80" width="22.70" height="28.00" fill="#d0d0d0"/>
<rect x="47.10" y="573.40" width="16.40" height="18.30" fill="#cfcfcf"/>
<rect x="63.50" y="573.40" width="20.00" height="18.30" fill="#c3c5c8"/>
<rect x="83.50" y="573.40" width="18.30" height="18.30" fill="#c0c0c0"/>
<rect x="101.80" y="573.40" width="17.20" height="18.30" fill="#eeeeee"/>
<rect x="119.00" y="573.40" width="24.70" height="18.30" fill="#d0d0d0"/>
<rect x="143.70" y="573.40" width="21.90" height="18.30" fill="#e0e0e0"/>
<rect x="165.60" y="573.40" width="17.20" height="18.30" fill="#dadada"/>
<rect x="182.80" y="573.40" width="25.20" height="18.30" fill="#d5d5d5"/>
<rect x="208.00" y="573.40" width="17.00" height="18.30" fill="#e6e6e6"/>
<rect x="225.00" y="573.40" width="38.30" height="18.30" fill="#d0d0d0"/>
<rect x="263.30" y="573.40" width="17.80" height="21.90" fill="#cfd0d2"/>
<rect x="281.10" y="580.80" width="41.80" height="14.50" fill="#f4f4f4"/>
<rect x="21.90" y="591.70" width="41.60" height="41.90" fill="#ece6e8"/>
<rect x="63.50" y="591.70" width="17.20" height="18.60" fill="#b6b8b8"/>
<rect x="80.70" y="591.70" width="21.10" height="18.60" fill="#d0d0d0"/>
<rect x="101.80" y="591.70" width="41.90" height="41.90" fill="#f4f4f4"/>
<rect x="182.80" y="591.70" width="42.20" height="41.90" fill="#fafafa"/>
<rect x="225.00" y="591.70" width="21.80" height="16.40" fill="#b2acae"/>
<rect x="246.80" y="591.70" width="16.50" height="16.40" fill="#a6a6a8"/>
<rect x="263.30" y="595.30" width="17.80" height="38.30" fill="#93b8d8"/>
<rect x="281.10" y="596.10" width="20.50" height="14.20" fill="#c8c8cc"/>
<rect x="63.50" y="610.30" width="18.60" height="23.30" fill="#d8a8b8"/>
<rect x="82.10" y="610.30" width="19.70" height="23.30" fill="#e0b8c4"/>
<rect x="143.70" y="610.30" width="21.90" height="23.30" fill="#e2e2e6"/>
<rect x="165.60" y="610.30" width="17.20" height="23.30" fill="#e6e4e4"/>
<rect x="225.00" y="608.10" width="21.80" height="25.50" fill="#cfe5f5"/>
<rect x="246.80" y="608.10" width="16.50" height="25.50" fill="#a8cce8"/>
<rect x="281.10" y="610.30" width="40.50" height="23.30" fill="#f4fafd"/>
<rect x="40.50" y="633.60" width="24.60" height="19.10" fill="#f2d4da"/>
<rect x="65.10" y="633.60" width="17.00" height="19.10" fill="#e0b8c4"/>
<rect x="82.10" y="633.60" width="19.70" height="19.10" fill="#ecc8d0"/>
<rect x="101.80" y="633.60" width="24.10" height="19.10" fill="#dedede"/>
<rect x="125.90" y="633.60" width="20.50" height="25.20" fill="#e6e8e8"/>
<rect x="146.40" y="633.60" width="19.20" height="25.20" fill="#e0e1e2"/>
<rect x="165.60" y="633.60" width="17.20" height="25.20" fill="#dedada"/>
<rect x="182.80" y="633.60" width="17.00" height="22.40" fill="#f4f5f5"/>
<rect x="220.30" y="633.60" width="26.50" height="19.10" fill="#cce4f5"/>
<rect x="246.80" y="633.60" width="16.50" height="19.10" fill="#a8cde8"/>
<rect x="263.30" y="633.60" width="23.50" height="15.00" fill="#a8d0ee"/>
<rect x="40.50" y="652.70" width="41.60" height="41.60" fill="#f6dede"/>
<rect x="101.80" y="648.60" width="24.10" height="32.90" fill="#dcdee0"/>
<rect x="125.90" y="658.80" width="41.00" height="22.70" fill="#c0bfc0"/>
<rect x="166.90" y="658.80" width="15.90" height="22.70" fill="#c8c8c8"/>
<rect x="182.80" y="656.00" width="37.50" height="27.70" fill="#c6c6c6"/>
<rect x="220.30" y="650.00" width="26.50" height="33.70" fill="#f0f0f0"/>
<rect x="246.80" y="650.00" width="16.50" height="17.00" fill="#c0d8ea"/>
<rect x="246.80" y="667.00" width="16.50" height="16.70" fill="#a8c8e4"/>
<rect x="263.30" y="648.60" width="23.50" height="24.70" fill="#e8f0f6"/>
<rect x="101.80" y="633.60" width="24.10" height="15.00" fill="#dedede"/>
<rect x="636.80" y="519.00" width="11.20" height="15.70" fill="#b8b2b2"/>
<rect x="648.00" y="519.00" width="22.70" height="15.70" fill="#e2e2e2"/>
<rect x="670.70" y="519.00" width="39.60" height="15.70" fill="#dcdcdc"/>
<rect x="710.30" y="519.00" width="15.70" height="15.70" fill="#eaeaea"/>
<rect x="726.00" y="519.00" width="12.90" height="15.70" fill="#d8d8d8"/>
<rect x="738.90" y="519.00" width="27.30" height="15.70" fill="#e4e4e4"/>
<rect x="766.20" y="519.00" width="21.70" height="15.70" fill="#d0d2d4"/>
<rect x="787.90" y="519.00" width="17.50" height="15.70" fill="#d0d0d0"/>
<rect x="805.40" y="519.00" width="33.30" height="15.70" fill="#d2d2d2"/>
<rect x="838.70" y="519.00" width="22.70" height="15.70" fill="#dedede"/>
<rect x="861.40" y="519.00" width="17.50" height="15.70" fill="#ececec"/>
<rect x="878.90" y="519.00" width="15.70" height="15.70" fill="#dedede"/>
<rect x="894.60" y="519.00" width="24.50" height="15.70" fill="#cfcfcf"/>
<rect x="919.10" y="519.00" width="44.80" height="15.70" fill="#f4f4f4"/>
<rect x="636.80" y="534.70" width="33.90" height="15.80" fill="#e6e6e6"/>
<rect x="670.70" y="534.70" width="11.60" height="15.80" fill="#d8d8d8"/>
<rect x="682.30" y="534.70" width="43.70" height="15.80" fill="#ebebeb"/>
<rect x="738.90" y="534.70" width="10.50" height="15.80" fill="#e8e8e8"/>
<rect x="766.20" y="534.70" width="11.20" height="15.80" fill="#dcdcdc"/>
<rect x="787.90" y="534.70" width="17.50" height="15.80" fill="#d4d4d4"/>
<rect x="805.40" y="534.70" width="14.00" height="15.80" fill="#cdcdcd"/>
<rect x="819.40" y="534.70" width="19.30" height="15.80" fill="#f4f4f4"/>
<rect x="838.70" y="534.70" width="22.70" height="15.80" fill="#dadada"/>
<rect x="894.60" y="534.70" width="13.00" height="33.30" fill="#f0f0f0"/>
<rect x="907.60" y="534.70" width="11.50" height="15.80" fill="#b0b0b0"/>
<rect x="919.10" y="534.70" width="12.30" height="15.80" fill="#e6e6ec"/>
<rect x="585.00" y="550.50" width="14.00" height="17.50" fill="#f2f2f2"/>
<rect x="627.00" y="550.50" width="9.80" height="17.50" fill="#f4f4f4"/>
<rect x="636.80" y="550.50" width="33.90" height="17.50" fill="#e6e6e6"/>
<rect x="670.70" y="550.50" width="11.60" height="17.50" fill="#a8a8a8"/>
<rect x="682.30" y="550.50" width="11.20" height="17.50" fill="#dadada"/>
<rect x="693.50" y="550.50" width="45.40" height="17.50" fill="#f0f0f0"/>
<rect x="766.20" y="550.50" width="21.70" height="17.50" fill="#e4e6e6"/>
<rect x="565.70" y="568.00" width="19.30" height="24.50" fill="#d4d4d4"/>
<rect x="585.00" y="568.00" width="14.00" height="12.20" fill="#eeeeee"/>
<rect x="585.00" y="580.20" width="14.00" height="18.60" fill="#c4c2c4"/>
<rect x="599.00" y="568.00" width="28.00" height="24.50" fill="#cccccc"/>
<rect x="627.00" y="568.00" width="38.50" height="10.50" fill="#f6f6f6"/>
<rect x="627.00" y="578.50" width="14.70" height="40.20" fill="#e4e4e4"/>
<rect x="641.70" y="578.50" width="23.80" height="21.00" fill="#b8b8b8"/>
<rect x="665.50" y="568.00" width="17.50" height="24.50" fill="#d0d0d0"/>
<rect x="683.00" y="568.00" width="35.00" height="24.50" fill="#d4d4d4"/>
<rect x="718.00" y="568.00" width="28.00" height="24.50" fill="#dadada"/>
<rect x="746.00" y="568.00" width="14.00" height="24.50" fill="#d8a8b8"/>
<rect x="760.00" y="568.00" width="18.10" height="24.50" fill="#d8a0b0"/>
<rect x="778.10" y="568.00" width="27.30" height="24.50" fill="#e8c8d0"/>
<rect x="805.40" y="568.00" width="21.00" height="24.50" fill="#d8d8d8"/>
<rect x="826.40" y="568.00" width="21.70" height="24.50" fill="#c4c6c6"/>
<rect x="848.10" y="568.00" width="20.30" height="24.50" fill="#bcbcbe"/>
<rect x="868.40" y="568.00" width="23.80" height="24.50" fill="#d4d4d4"/>
<rect x="892.20" y="568.00" width="14.70" height="24.50" fill="#e6e8e8"/>
<rect x="906.90" y="568.00" width="15.70" height="24.50" fill="#e0e0e0"/>
<rect x="922.60" y="568.00" width="26.30" height="24.50" fill="#bcbcbc"/>
<rect x="948.90" y="568.00" width="17.50" height="24.50" fill="#e4e6e6"/>
<rect x="966.40" y="568.00" width="21.00" height="24.50" fill="#cfcfcf"/>
<rect x="987.40" y="568.00" width="19.20" height="24.50" fill="#c4c4c4"/>
<rect x="1006.60" y="568.00" width="19.30" height="24.50" fill="#cccccc"/>
<rect x="1025.90" y="577.80" width="25.10" height="14.00" fill="#a8a6a8"/>
<rect x="1051.00" y="577.80" width="16.10" height="14.00" fill="#e4e8ec"/>
<rect x="569.20" y="592.50" width="15.80" height="21.00" fill="#f0f0f0"/>
<rect x="665.50" y="592.50" width="80.50" height="41.30" fill="#f8f8f8"/>
<rect x="746.00" y="592.50" width="32.10" height="41.30" fill="#b8d8f0"/>
<rect x="778.10" y="592.50" width="27.30" height="14.00" fill="#f0e8ea"/>
<rect x="805.40" y="592.50" width="21.00" height="14.00" fill="#f0f0f0"/>
<rect x="826.40" y="592.50" width="21.70" height="14.00" fill="#d8d8d8"/>
<rect x="848.10" y="592.50" width="20.30" height="14.00" fill="#e8e8e8"/>
<rect x="868.40" y="592.50" width="23.80" height="14.00" fill="#c8c8c8"/>
<rect x="892.20" y="592.50" width="14.70" height="14.00" fill="#e4e6e6"/>
<rect x="906.90" y="592.50" width="42.00" height="41.30" fill="#d4d4d4"/>
<rect x="987.40" y="592.50" width="38.50" height="41.30" fill="#cfcfcf"/>
<rect x="1025.90" y="592.50" width="18.90" height="19.50" fill="#e0e0e0"/>
<rect x="1044.80" y="592.50" width="22.30" height="19.50" fill="#f6f6f6"/>
<rect x="1067.10" y="601.20" width="16.50" height="32.60" fill="#e8eaeb"/>
<rect x="778.10" y="606.50" width="25.60" height="27.30" fill="#a8d0f0"/>
<rect x="803.70" y="606.50" width="22.70" height="27.30" fill="#d8d8d8"/>
<rect x="826.40" y="606.50" width="42.00" height="27.30" fill="#d0d0d0"/>
<rect x="868.40" y="606.50" width="14.70" height="12.20" fill="#ececec"/>
<rect x="868.40" y="618.70" width="14.70" height="15.10" fill="#c8c8c8"/>
<rect x="883.10" y="606.50" width="23.80" height="27.30" fill="#d8d8d8"/>
<rect x="948.90" y="612.80" width="17.50" height="21.00" fill="#b8babc"/>
<rect x="966.40" y="606.50" width="21.00" height="27.30" fill="#d4d4d4"/>
<rect x="1025.90" y="612.00" width="25.10" height="21.80" fill="#b8bcbe"/>
<rect x="1051.00" y="612.00" width="16.10" height="21.80" fill="#b8b8b8"/>
<rect x="746.00" y="633.80" width="41.90" height="39.80" fill="#fff0b8"/>
<rect x="787.90" y="633.80" width="15.80" height="39.80" fill="#fdf6d8"/>
<rect x="803.70" y="633.80" width="22.70" height="16.40" fill="#e0e0e0"/>
<rect x="826.40" y="633.80" width="16.80" height="16.40" fill="#ebebeb"/>
<rect x="843.20" y="633.80" width="25.20" height="16.40" fill="#f0f0f0"/>
<rect x="868.40" y="633.80" width="19.20" height="16.40" fill="#e4e4e4"/>
<rect x="887.60" y="633.80" width="19.30" height="16.40" fill="#f8f8f8"/>
<rect x="803.70" y="650.20" width="22.70" height="23.40" fill="#f0f0f0"/>
<rect x="826.40" y="650.20" width="16.80" height="23.40" fill="#d4d4d4"/>
<rect x="843.20" y="650.20" width="25.20" height="23.40" fill="#d2d2d2"/>
<rect x="868.40" y="650.20" width="19.20" height="23.40" fill="#cccccc"/>
<rect x="887.60" y="650.20" width="19.30" height="23.40" fill="#c4c6c8"/>
<rect x="906.90" y="650.20" width="22.00" height="23.40" fill="#e4e6e6"/>
<rect x="746.00" y="673.60" width="41.90" height="42.40" fill="#c4c0dc"/>
<rect x="787.90" y="673.60" width="17.50" height="20.30" fill="#c8cce0"/>
<rect x="805.40" y="673.60" width="21.00" height="20.30" fill="#c4c4c4"/>
<rect x="826.40" y="673.60" width="42.00" height="20.30" fill="#dcdcdc"/>
<rect x="868.40" y="673.60" width="21.00" height="20.30" fill="#d0d0d0"/>
<rect x="889.40" y="673.60" width="17.50" height="20.30" fill="#dcdcdc"/>
<rect x="906.90" y="673.60" width="22.00" height="42.40" fill="#e0e0e0"/>
<rect x="928.90" y="673.60" width="16.50" height="20.30" fill="#cccccc"/>
<rect x="945.40" y="673.60" width="19.20" height="20.30" fill="#ececec"/>
<rect x="787.90" y="693.90" width="17.50" height="22.10" fill="#f4f4f6"/>
<rect x="805.40" y="693.90" width="21.00" height="22.10" fill="#f0f0f0"/>
<rect x="826.40" y="693.90" width="42.00" height="22.10" fill="#dedede"/>
<rect x="868.40" y="693.90" width="38.50" height="22.10" fill="#eeeeee"/>
<rect x="1223.00" y="509.30" width="22.00" height="26.70" fill="#e8e8e8"/>
<rect x="1245.00" y="509.30" width="47.60" height="26.70" fill="#c7c7c7"/>
<rect x="1292.60" y="509.30" width="16.30" height="22.00" fill="#dadada"/>
<rect x="1308.90" y="509.30" width="16.20" height="22.00" fill="#e4e4e4"/>
<rect x="1325.10" y="509.30" width="13.90" height="20.90" fill="#a8a8a8"/>
<rect x="1339.00" y="509.30" width="14.00" height="20.90" fill="#b4b4b4"/>
<rect x="1353.00" y="509.30" width="31.30" height="19.70" fill="#cacaca"/>
<rect x="1384.30" y="509.30" width="20.90" height="19.70" fill="#c6c6c6"/>
<rect x="1405.20" y="509.30" width="43.00" height="27.70" fill="#c4c4c4"/>
<rect x="1448.20" y="509.30" width="23.20" height="27.70" fill="#e6e6e6"/>
<rect x="1206.00" y="536.00" width="66.90" height="15.50" fill="#d6d6d6"/>
<rect x="1272.90" y="531.30" width="19.70" height="20.20" fill="#e0dcdc"/>
<rect x="1292.60" y="531.30" width="20.90" height="34.90" fill="#c8c8cc"/>
<rect x="1290.30" y="551.00" width="17.40" height="43.00" fill="#c8c8cc"/>
<rect x="1313.50" y="531.30" width="25.50" height="20.20" fill="#dcdcdc"/>
<rect x="1339.00" y="530.20" width="14.00" height="21.30" fill="#eeeeee"/>
<rect x="1353.00" y="529.00" width="30.20" height="22.50" fill="#d8d8d8"/>
<rect x="1383.20" y="529.00" width="22.00" height="22.50" fill="#c8c8cc"/>
<rect x="1405.20" y="537.00" width="43.00" height="14.50" fill="#eeeeee"/>
<rect x="1448.20" y="537.00" width="23.20" height="14.50" fill="#d8d8d8"/>
<rect x="1220.00" y="551.50" width="27.80" height="27.00" fill="#e6e6e8"/>
<rect x="1247.80" y="551.50" width="25.10" height="27.00" fill="#e2dede"/>
<rect x="1314.70" y="551.50" width="24.30" height="15.40" fill="#efefef"/>
<rect x="1339.00" y="551.50" width="14.00" height="27.00" fill="#e4e4e4"/>
<rect x="1380.80" y="551.50" width="24.40" height="27.00" fill="#efefef"/>
<rect x="1405.20" y="551.50" width="27.90" height="27.00" fill="#d0d0d0"/>
<rect x="1433.10" y="551.50" width="13.90" height="27.00" fill="#dcdcdc"/>
<rect x="1124.80" y="601.00" width="23.20" height="16.30" fill="#f4dce0"/>
<rect x="1148.00" y="591.70" width="41.80" height="41.80" fill="#f2dadd"/>
<rect x="1189.80" y="591.70" width="22.70" height="16.30" fill="#fafafa"/>
<rect x="1189.80" y="608.00" width="22.70" height="25.50" fill="#e6e6e6"/>
<rect x="1212.50" y="595.20" width="15.80" height="12.80" fill="#f0f0f0"/>
<rect x="1212.50" y="608.00" width="15.80" height="25.50" fill="#b8b8ba"/>
<rect x="1228.30" y="595.20" width="17.90" height="15.10" fill="#f4f4f4"/>
<rect x="1228.30" y="610.30" width="17.90" height="23.20" fill="#c8c8ca"/>
<rect x="1246.20" y="610.30" width="41.80" height="23.20" fill="#dcecf6"/>
<rect x="1288.00" y="610.30" width="20.90" height="23.20" fill="#b0d0ec"/>
<rect x="1308.90" y="595.20" width="42.50" height="38.30" fill="#e4e4e4"/>
<rect x="1351.40" y="595.20" width="18.60" height="19.70" fill="#e0e0e4"/>
<rect x="1351.40" y="614.90" width="18.60" height="18.60" fill="#d0d0d0"/>
<rect x="1370.00" y="595.20" width="19.00" height="19.70" fill="#d8d8d8"/>
<rect x="1370.00" y="614.90" width="19.00" height="18.60" fill="#c8c8c8"/>
<rect x="1389.00" y="595.20" width="41.80" height="38.30" fill="#f8f8f8"/>
</svg></body></html>
